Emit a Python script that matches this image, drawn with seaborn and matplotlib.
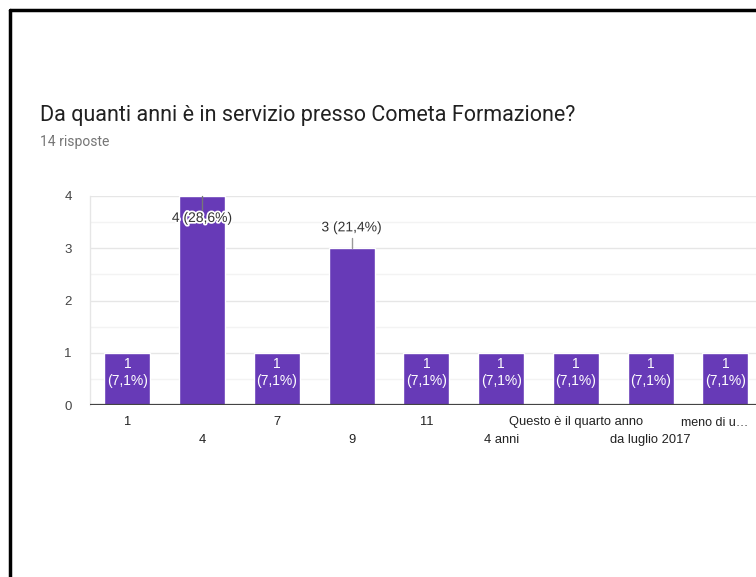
import matplotlib
matplotlib.use("Agg")
import matplotlib.pyplot as plt
import matplotlib.patheffects as pe
import seaborn as sns
import pandas as pd
from matplotlib.lines import Line2D

categories = ["1", "4", "7", "9", "11", "4 anni", "Questo è il quarto anno",
              "da luglio 2017", "meno di u…"]
counts = [1, 4, 1, 3, 1, 1, 1, 1, 1]
title = "Da quanti anni è in servizio presso Cometa Formazione?"
subtitle = "14 risposte"

total = sum(counts)
df = pd.DataFrame({"cat": categories, "n": counts})

sns.set_theme(style="white")
plt.rcParams["font.family"] = ["Liberation Sans", "DejaVu Sans"]
title_font = ["Roboto", "DejaVu Sans"]

W, H = 756, 577
fig = plt.figure(figsize=(W / 100, H / 100), dpi=100)
fig.patch.set_facecolor("white")

ax_left = 90 / W
ax_bottom = (H - 405) / H
ax_h = (405 - 196) / H
ax_w = (W - 90) / W
ax = fig.add_axes([ax_left, ax_bottom, ax_w, ax_h])

sns.barplot(data=df, x="cat", y="n", color="#673AB7", saturation=1,
            width=0.615, ax=ax, zorder=3)
ax.set_xlim(-0.5, -0.5 + (W - 90) / 74.75)
ax.set_ylim(0, 4)

# grid
ax.set_yticks([0, 1, 2, 3, 4])
ax.set_yticks([0.5, 1.5, 2.5, 3.5], minor=True)
ax.grid(axis="y", which="major", color="#e6e6e6", linewidth=1, zorder=0)
ax.grid(axis="y", which="minor", color="#f3f3f3", linewidth=1, zorder=0)
for s in ["top", "right", "bottom"]:
    ax.spines[s].set_visible(False)
ax.spines["left"].set_color("#e6e6e6")
ax.spines["left"].set_linewidth(1)
ax.axhline(0, color="#444444", linewidth=1.6, zorder=4)

ax.set_xlabel("")
ax.set_ylabel("")
ax.tick_params(axis="y", which="both", length=0, pad=13, labelsize=9.5, labelcolor="#444444")

# x tick labels in two staggered rows: even -> major ticks, odd -> minor ticks;
# the last (truncated) label sits at the right edge, right-aligned
n = len(categories)
even_idx = [i for i in range(n) if i % 2 == 0 and i != n - 1]
odd_idx = [i for i in range(n) if i % 2 == 1]
ax.set_xticks(even_idx)
ax.set_xticklabels([categories[i] for i in even_idx])
ax.set_xticks(odd_idx, minor=True)
ax.set_xticklabels([categories[i] for i in odd_idx], minor=True)
ax.tick_params(axis="x", which="major", length=0, pad=8, labelsize=9.3, labelcolor="#222222")
ax.tick_params(axis="x", which="minor", length=0, pad=21, labelsize=9.3, labelcolor="#222222")
ax.annotate(categories[n - 1], xy=(n - 1, 0), xycoords="data",
            xytext=(16.5, -12.8), textcoords="offset points",
            ha="right", va="center", fontsize=9.0, color="#222222", annotation_clip=False)

# value labels
for i, v in enumerate(counts):
    pct = f"{v / total * 100:.1f}".replace(".", ",")
    if v == 1:
        ax.text(i, 0.62, f"{v}\n({pct}%)", ha="center", va="center",
                color="white", fontsize=10, linespacing=1.3, zorder=5)
    else:
        if v == max(counts):
            ly = v - 0.42
            ax.plot([i, i], [v, v - 0.27], color="#777777", lw=1, zorder=5, clip_on=False)
        else:
            ly = v + 0.40
            ax.plot([i, i], [v, v + 0.2], color="#999999", lw=1, zorder=5, clip_on=False)
        ax.text(i, ly, f"{v} ({pct}%)", ha="center", va="center", color="#333333",
                fontsize=10, zorder=6,
                path_effects=[pe.withStroke(linewidth=2.5, foreground="white")])

# title and subtitle
fig.text(40 / W, 1 - 115 / H, title, ha="left", va="center", fontsize=15.5,
         color="#212121", family=title_font)
fig.text(40 / W, 1 - 142 / H, subtitle, ha="left", va="center", fontsize=10,
         color="#757575", family=title_font)

# black frame (left and top)
fig.add_artist(Line2D([9.5 / W, 9.5 / W], [0, 1 - 9.5 / H], color="black", lw=2.5,
                      transform=fig.transFigure))
fig.add_artist(Line2D([9.5 / W, 1], [1 - 9.5 / H, 1 - 9.5 / H], color="black", lw=2.5,
                      transform=fig.transFigure))

fig.savefig("out.png", dpi=100)
